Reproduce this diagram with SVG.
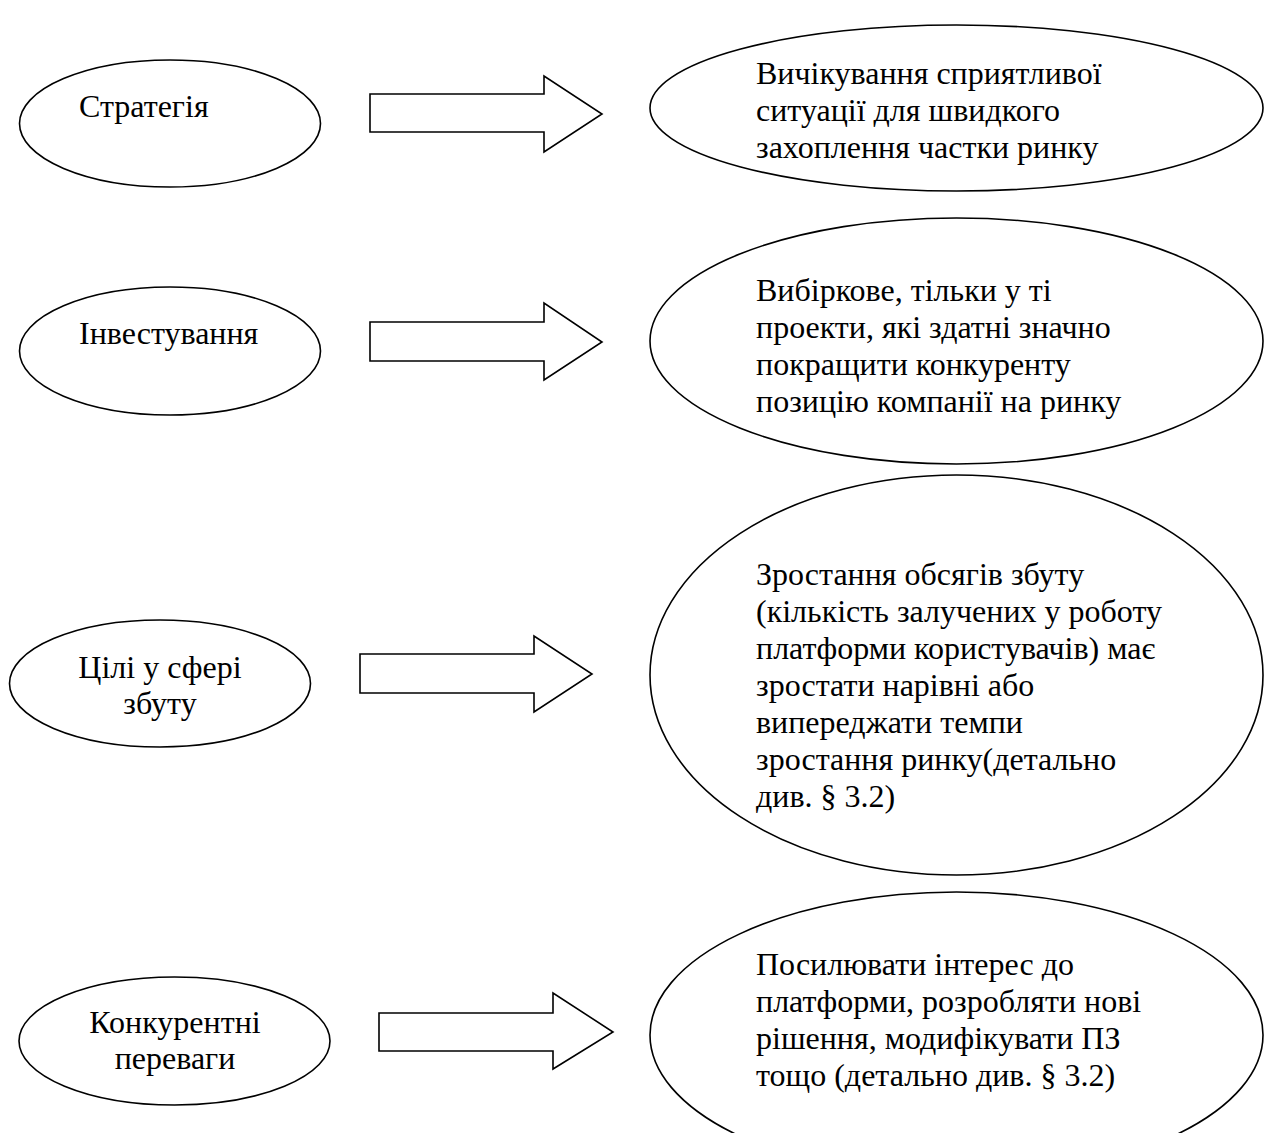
<svg xmlns="http://www.w3.org/2000/svg" width="1265" height="1133" viewBox="0 0 1265 1133">
<style>
.n{fill:#fff;stroke:#000;stroke-width:1.6}
.a{fill:#fff;stroke:#000;stroke-width:1.6;stroke-linejoin:miter}
text{font-family:"Liberation Serif","Times New Roman",serif;font-size:32px;fill:#000}
.c{text-anchor:middle}
</style>
<rect width="1265" height="1133" fill="#fff"/>
<g id="connectors">
<polygon class="a" points="370,94 544,94 544,76 602,114 544,152 544,132 370,132"/>
<polygon class="a" points="370,322 544,322 544,303 602,342 544,380 544,361 370,361"/>
<polygon class="a" points="360,654 534,654 534,636 592,674 534,712 534,693 360,693"/>
<polygon class="a" points="379,1013 553,1013 553,993 613,1032 553,1069 553,1051 379,1051"/>
</g>
<g id="strategy">
<ellipse class="n" cx="170" cy="123.5" rx="150.5" ry="63.5"/>
<text x="79" y="117">Стратегія</text>
</g>
<g id="investment">
<ellipse class="n" cx="170" cy="351" rx="150.5" ry="64"/>
<text x="79" y="344">Інвестування</text>
</g>
<g id="sales-goals">
<ellipse class="n" cx="160" cy="683.5" rx="150.5" ry="63.5"/>
<text class="c" x="160" y="678">Цілі у сфері</text>
<text class="c" x="160" y="714">збуту</text>
</g>
<g id="competitive">
<ellipse class="n" cx="174.5" cy="1041" rx="155.5" ry="64"/>
<text class="c" x="175" y="1033">Конкурентні</text>
<text class="c" x="175" y="1069">переваги</text>
</g>
<g id="strategy-desc">
<ellipse class="n" cx="956.5" cy="108" rx="306.5" ry="83"/>
<text x="756" y="84">Вичікування сприятливої</text>
<text x="756" y="121">ситуації для швидкого</text>
<text x="756" y="158">захоплення частки ринку</text>
</g>
<g id="investment-desc">
<ellipse class="n" cx="956.5" cy="341" rx="306.5" ry="123"/>
<text x="756" y="301">Вибіркове, тільки у ті</text>
<text x="756" y="338">проекти, які здатні значно</text>
<text x="756" y="375">покращити конкуренту</text>
<text x="756" y="412">позицію компанії на ринку</text>
</g>
<g id="sales-desc">
<ellipse class="n" cx="956.5" cy="675" rx="306.5" ry="200"/>
<text x="756" y="585">Зростання обсягів збуту</text>
<text x="756" y="622">(кількість залучених у роботу</text>
<text x="756" y="659">платформи користувачів) має</text>
<text x="756" y="696">зростати нарівні або</text>
<text x="756" y="733">випереджати темпи</text>
<text x="756" y="770">зростання ринку(детально</text>
<text x="756" y="807">див. § 3.2)</text>
</g>
<g id="competitive-desc">
<ellipse class="n" cx="956.5" cy="1035" rx="306.5" ry="143"/>
<text x="756" y="975">Посилювати інтерес до</text>
<text x="756" y="1012">платформи, розробляти нові</text>
<text x="756" y="1049">рішення, модифікувати ПЗ</text>
<text x="756" y="1086">тощо (детально див. § 3.2)</text>
</g>
</svg>
